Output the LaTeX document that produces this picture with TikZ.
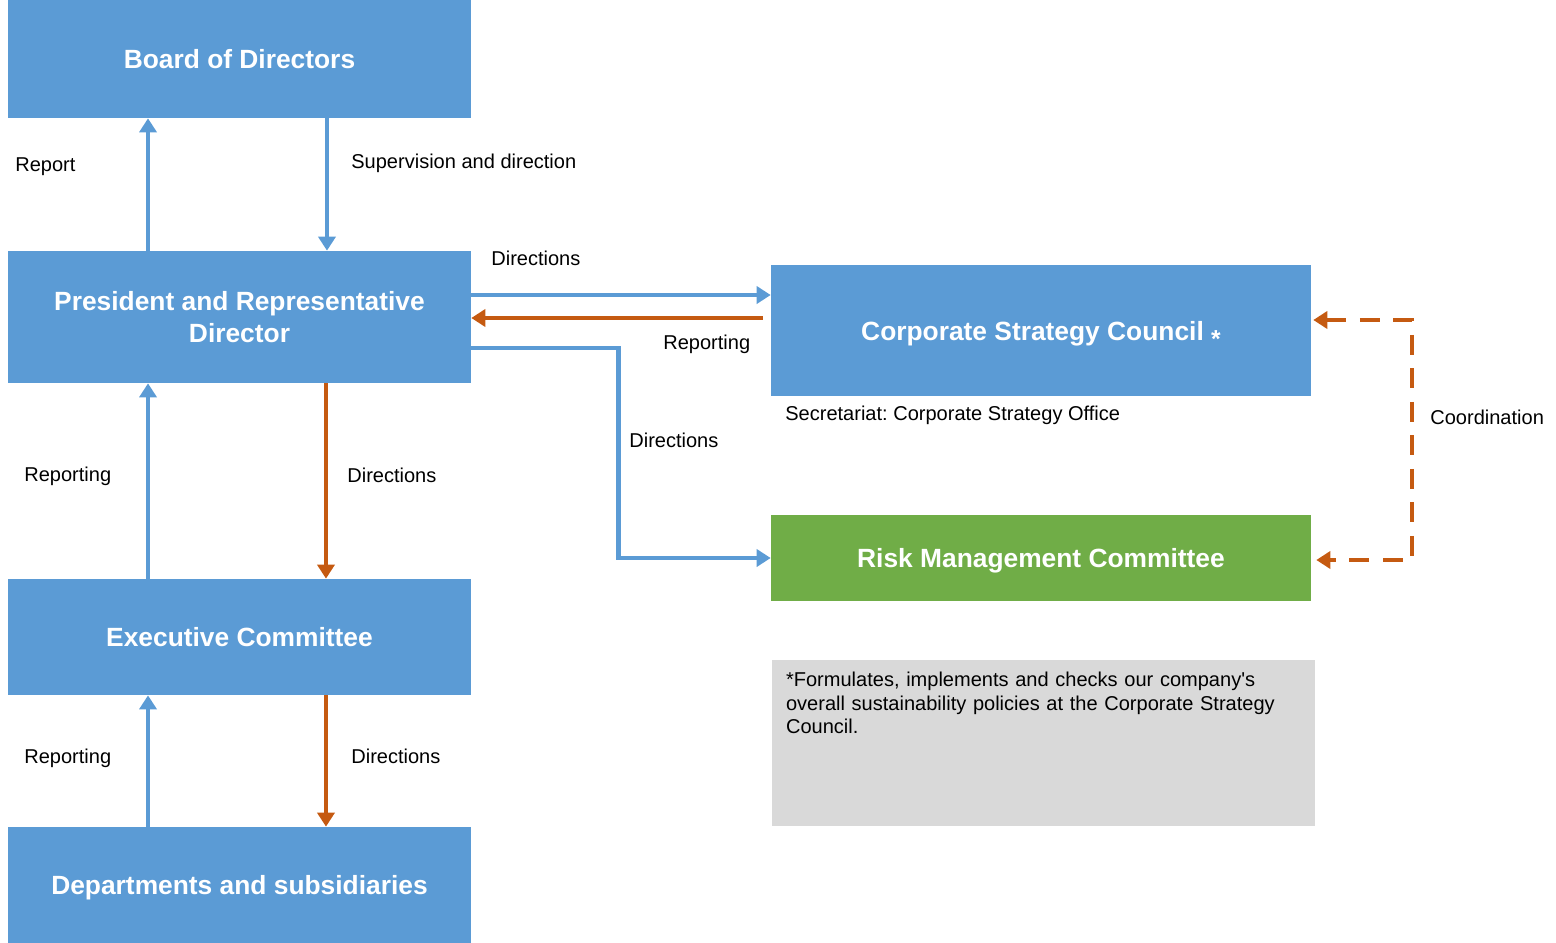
\documentclass[tikz,border=0pt]{standalone}
\usepackage{fontspec}
\setmainfont{Liberation Sans}
\frenchspacing
\usetikzlibrary{arrows.meta,positioning}
\definecolor{boxBlue}{HTML}{5B9BD5}
\definecolor{boxGreen}{HTML}{70AD47}
\definecolor{flowOrange}{HTML}{C55A11}
\definecolor{noteGray}{HTML}{D9D9D9}
\tikzset{org box/.style={fill=boxBlue, text=white, font=\fontsize{15}{18}\selectfont\bfseries, align=center, inner sep=0pt, text depth=0pt, minimum width=9.26cm}}
\tikzset{
	flow label/.style={font=\fontsize{11.4}{13.4}\selectfont, anchor=west, inner sep=0pt, yshift=-0.04cm},
	tip/.style={-{Triangle[length=0.28cm,width=0.34cm]}},
	blue flow/.style={draw=boxBlue, line width=2.6pt, tip},
	orange flow/.style={draw=flowOrange, line width=2.6pt, tip},
	coord flow/.style={draw=flowOrange, line width=2.6pt, dash pattern=on 0.4cm off 0.27cm,
			{Triangle[length=0.28cm,width=0.34cm]}-{Triangle[length=0.28cm,width=0.34cm]}}
}

\begin{document}
\begin{tikzpicture}[x=0.02cm, y=-0.02cm]
			     \useasboundingbox (0,0) rectangle (1556,943);
			     \node[org box, minimum height=2.36cm] at (239.5,59) (board) {Board of Directors};
			     \node[org box, minimum height=2.64cm] at (239.5,317) (pres) {President and Representative\\Director};
			     \node[org box, minimum height=2.32cm] at (239.5,637) (exec) {Executive Committee};
			     \node[org box, minimum height=2.32cm] at (239.5,885) (dept) {Departments and subsidiaries};
			     \node[org box, minimum width=10.8cm, minimum height=2.62cm] at (1041,330.5) (csc) {Corporate Strategy Council \raisebox{-.55ex}[0pt][0pt]{\fontsize{14}{14}\selectfont *}};
			     \node[org box, fill=boxGreen, minimum width=10.8cm, minimum height=1.72cm] at (1041,558) (risk) {Risk Management Committee};
			     \node[fill=noteGray, inner sep=0pt, minimum width=10.86cm, minimum height=3.32cm] at (1043.5,743) (note) {};
			     \node[flow label, anchor=north west, text width=10.3cm, align=left] at ([xshift=0.28cm,yshift=-0.2cm]note.north west) (note_text) {*Formulates, implements and checks our company\textquotesingle s overall sustainability policies at the Corporate Strategy Council.};
			     \coordinate (coord_top) at (1412,320);
			     \coordinate (coord_bot) at (1412,560);
			     \path ([xshift=-1.83cm]pres.north) edge[blue flow] ([xshift=-1.83cm]board.south);
			     \path ([xshift=1.75cm]board.south) edge[blue flow] ([xshift=1.75cm]pres.north);
			     \path ([yshift=0.44cm]pres.east) edge[blue flow] ([yshift=0.44cm]pres.east -| csc.west);
			     \path ([xshift=-0.16cm,yshift=-0.02cm]pres.east -| csc.west) edge[orange flow] ([yshift=-0.02cm]pres.east);
			     \draw[blue flow] ([yshift=-0.62cm]pres.east) -| ([xshift=-3.04cm]risk.west) -- (risk.west);
			     \path ([xshift=-1.83cm]exec.north) edge[blue flow] ([xshift=-1.83cm]pres.south);
			     \path ([xshift=1.73cm]pres.south) edge[orange flow] ([xshift=1.73cm]exec.north);
			     \path ([xshift=-1.83cm]dept.north) edge[blue flow] ([xshift=-1.83cm]exec.south);
			     \path ([xshift=1.73cm]exec.south) edge[orange flow] ([xshift=1.73cm]dept.north);
			     % coordination between the two councils
			     \draw[coord flow] ([xshift=0.04cm]csc.east |- coord_top) -- (coord_top) -- (coord_bot) -- ([xshift=0.1cm]risk.east |- coord_bot);
			     \node[flow label] at (15,165) (lab_report) {Report};
			     \node[flow label] at (351,161) (lab_sup) {Supervision and direction};
			     \node[flow label] at (491,256) (lab_dir_csc) {Directions};
			     \node[flow label] at (663,342) (lab_rep_csc) {Reporting};
			     \node[flow label] at (629,438) (lab_dir_risk) {Directions};
			     \node[flow label] at (785,413) (lab_office) {Secretariat: Corporate Strategy Office};
			     \node[flow label] at (24,474) (lab_rep_exec) {Reporting};
			     \node[flow label] at (347,473) (lab_dir_exec) {Directions};
			     \node[flow label] at (24,756) (lab_rep_dept) {Reporting};
			     \node[flow label] at (351,754) (lab_dir_dept) {Directions};
			     \node[flow label] at (1430,415) (lab_coord) {Coordination};
			    \end{tikzpicture}
\end{document}
